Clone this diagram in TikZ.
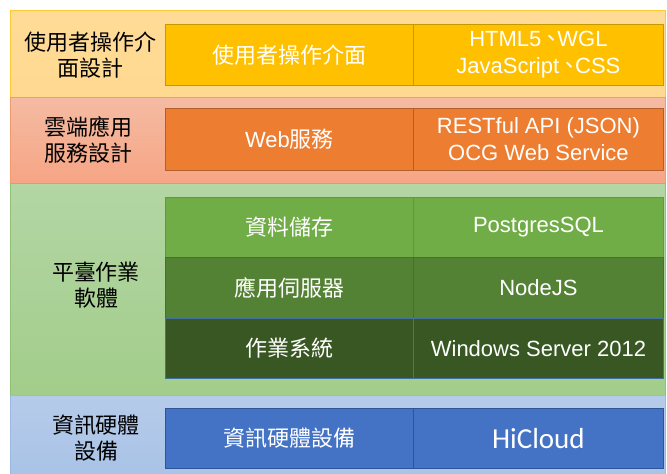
\documentclass[tikz,border=0pt]{standalone}
\usepackage{fontspec}
\setmainfont{Liberation Sans}
\newfontfamily\cjk{Noto Sans CJK TC}
\newfontfamily\calib{Carlito}
\newcommand{\dunhao}{\kern-1pt{\cjk 、}\kern-5pt}
\definecolor{goldband}{HTML}{FFD98F}
\definecolor{goldbandT}{HTML}{FFDB98}
\definecolor{goldline}{HTML}{FFC933}
\definecolor{goldbox}{HTML}{FFC000}
\definecolor{goldedge}{HTML}{C49A00}
\definecolor{pinkT}{HTML}{F5BBA3}
\definecolor{pinkB}{HTML}{F6A584}
\definecolor{pinkline}{HTML}{F29A6E}
\definecolor{orangebox}{HTML}{ED7D31}
\definecolor{orangeedge}{HTML}{B0602A}
\definecolor{greenT}{HTML}{B3D6A4}
\definecolor{greenB}{HTML}{A2CD8A}
\definecolor{greenline}{HTML}{8FC275}
\definecolor{greenA}{HTML}{70AD47}
\definecolor{greenAedge}{HTML}{5E9A3A}
\definecolor{greenC}{HTML}{548235}
\definecolor{greenCedge}{HTML}{46702D}
\definecolor{greenD}{HTML}{385723}
\definecolor{greenDedge}{HTML}{41719C}
\definecolor{blueT}{HTML}{B6CBEA}
\definecolor{blueB}{HTML}{A8C3E6}
\definecolor{blueline}{HTML}{9DB8E0}
\definecolor{bluebox}{HTML}{4472C4}
\definecolor{blueedge}{HTML}{2F5597}
\begin{document}
\begin{tikzpicture}[x=1pt,y=-1pt,
  band/.style={draw=#1, line width=0.8pt, anchor=north west, inner sep=0pt, minimum width=655pt},
  cell/.style={draw=#1, line width=0.9pt, text=white, anchor=north west, inner sep=0pt,
    align=center, font=\fontsize{22}{27}\selectfont},
  lcell/.style={cell=#1, minimum width=248pt},
  rcell/.style={cell=#1, minimum width=250pt},
  lab/.style={text=black, align=center, inner sep=0pt, font=\fontsize{22}{26}\selectfont\cjk}
]
\useasboundingbox (0,0) rectangle (667,474);
% bands
\node[band=goldline, top color=goldbandT, bottom color=goldband, minimum height=87pt] (b1) at (10,10) {};
\node[band=pinkline, top color=pinkT, bottom color=pinkB, minimum height=86pt] (b2) at (10,97) {};
\node[band=greenline, top color=greenT, bottom color=greenB, minimum height=212pt] (b3) at (10,183) {};
\node[band=blueline, top color=blueT, bottom color=blueB, minimum height=82pt] (b4) at (10,395) {};
% labels
\node[lab] (l1) at (90,55) {使用者操作介\\面設計};
\node[lab] (l2) at (88,140) {雲端應用\\服務設計};
\node[lab] (l3) at (96,285) {平臺作業\\軟體};
\node[lab] (l4) at (96,438) {資訊硬體\\設備};
% UI row
\node[lcell=goldedge, fill=goldbox, minimum height=61pt] (u1) at (165,24) {\cjk 使用者操作介面};
\node[rcell=goldedge, fill=goldbox, minimum height=61pt] (u2) at (413,24) {HTML5\dunhao WGL\\JavaScript\dunhao CSS};
% cloud row
\node[lcell=orangeedge, fill=orangebox, minimum height=62pt] (c1) at (165,108) {Web{\cjk 服務}};
\node[rcell=orangeedge, fill=orangebox, minimum height=62pt] (c2) at (413,108) {RESTful API (JSON)\\OCG Web Service};
% platform rows
\node[lcell=greenAedge, fill=greenA, minimum height=60pt] (p1) at (165,197) {\cjk 資料儲存};
\node[rcell=greenAedge, fill=greenA, minimum height=60pt] (p2) at (413,197) {PostgresSQL};
\node[lcell=greenCedge, fill=greenC, minimum height=61pt] (p3) at (165,257) {\cjk 應用伺服器};
\node[rcell=greenCedge, fill=greenC, minimum height=61pt] (p4) at (413,257) {NodeJS};
\node[lcell=greenDedge, fill=greenD, minimum height=60pt] (p5) at (165,318) {\cjk 作業系統};
\node[rcell=greenDedge, fill=greenD, minimum height=60pt] (p6) at (413,318) {Windows Server 2012};
% hardware row
\node[lcell=blueedge, fill=bluebox, minimum height=60pt] (h1) at (165,408) {\cjk 資訊硬體設備};
\node[rcell=blueedge, fill=bluebox, minimum height=60pt, font=\fontsize{29}{32}\selectfont\calib] (h2) at (413,408) {HiCloud};
\end{tikzpicture}
\end{document}
